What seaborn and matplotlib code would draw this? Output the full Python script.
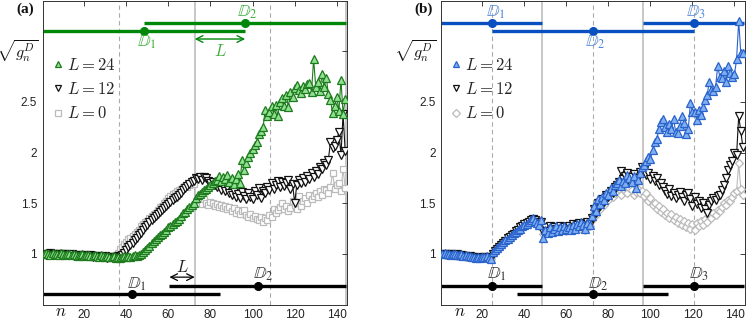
import numpy as np
import pandas as pd
import matplotlib
matplotlib.use("Agg")
import matplotlib.pyplot as plt
from matplotlib.lines import Line2D
import matplotlib.transforms as mtransforms
import seaborn as sns

# ---------------- data ----------------
n = list(range(1, 145))

a_L24 = [1.00,1.01,1.00,0.99,1.01,1.00,1.00,0.99,1.01,1.00,0.99,1.00,
         1.00,0.99,1.00,0.99,0.98,0.99,1.00,0.98,0.99,0.99,0.98,0.98,
         0.99,0.98,0.97,0.99,0.98,0.97,0.98,0.97,0.97,0.98,0.96,0.97,
         0.96,0.97,0.98,0.97,0.98,0.97,0.98,0.99,0.98,0.99,1.00,1.02,
         1.04,1.06,1.08,1.11,1.13,1.15,1.17,1.19,1.20,1.22,1.24,1.26,
         1.27,1.29,1.31,1.32,1.34,1.37,1.40,1.41,1.44,1.46,1.48,1.50,
         1.55,1.58,1.59,1.61,1.63,1.64,1.66,1.68,1.70,1.72,1.73,1.77,
         1.72,1.76,1.74,1.78,1.71,1.75,1.69,1.74,1.79,1.70,1.93,1.83,
         1.90,1.96,2.00,2.03,2.07,2.10,2.18,2.21,2.25,2.42,2.36,2.40,
         2.46,2.38,2.47,2.36,2.50,2.54,2.46,2.57,2.45,2.60,2.55,2.64,
         2.67,2.62,2.59,2.66,2.63,2.68,2.69,2.60,2.92,2.65,2.70,2.61,
         2.77,2.65,2.74,2.58,2.52,2.39,2.46,2.55,2.41,2.72,2.38,2.53]

a_L12 = [1.00,0.99,1.00,1.01,1.00,0.99,1.00,1.00,0.99,1.00,1.00,0.99,
         0.99,1.00,0.98,0.99,0.98,0.99,0.98,0.99,0.98,0.98,0.99,0.97,
         0.98,0.97,0.98,0.97,0.97,0.98,0.96,0.97,0.97,0.96,0.97,0.98,
         0.97,0.99,1.01,1.04,1.07,1.09,1.11,1.14,1.16,1.19,1.21,1.24,
         1.26,1.28,1.31,1.33,1.35,1.37,1.39,1.41,1.43,1.45,1.47,1.49,
         1.51,1.53,1.55,1.56,1.58,1.60,1.63,1.65,1.67,1.69,1.71,1.72,
         1.75,1.74,1.76,1.73,1.76,1.75,1.72,1.70,1.71,1.68,1.66,1.69,
         1.63,1.67,1.62,1.66,1.60,1.58,1.62,1.56,1.59,1.55,1.61,1.57,
         1.54,1.60,1.56,1.54,1.62,1.58,1.65,1.55,1.62,1.60,1.66,1.63,
         1.70,1.64,1.68,1.72,1.66,1.71,1.67,1.70,1.73,1.64,1.69,1.50,
         1.68,1.73,1.70,1.75,1.71,1.77,1.74,1.80,1.76,1.82,1.79,1.86,
         1.84,1.90,1.88,1.93,2.10,2.04,2.06,2.12,2.20,1.98,2.38,2.01]

a_L0 = [1.00,0.99,1.01,1.00,0.99,1.00,1.01,1.00,0.99,1.00,0.99,1.00,
        0.99,1.00,0.99,0.98,0.99,0.98,0.99,0.98,0.98,0.99,0.97,0.98,
        0.97,0.98,0.97,0.98,0.97,0.96,0.97,0.98,0.97,0.98,0.99,1.01,
        1.05,1.07,1.10,1.12,1.15,1.16,1.18,1.20,1.22,1.24,1.27,1.29,
        1.31,1.32,1.35,1.37,1.39,1.40,1.43,1.46,1.47,1.50,1.52,1.55,
        1.57,1.59,1.60,1.62,1.63,1.64,1.66,1.67,1.66,1.68,1.70,1.69,
        1.52,1.50,1.53,1.49,1.54,1.50,1.48,1.51,1.50,1.47,1.49,1.46,
        1.48,1.45,1.47,1.44,1.46,1.42,1.45,1.40,1.43,1.39,1.42,1.43,
        1.38,1.36,1.39,1.35,1.37,1.34,1.33,1.36,1.31,1.35,1.33,1.38,
        1.36,1.44,1.40,1.43,1.46,1.50,1.44,1.47,1.42,1.45,1.52,1.48,
        1.44,1.57,1.47,1.52,1.55,1.50,1.58,1.54,1.57,1.60,1.56,1.62,
        1.58,1.64,1.63,1.60,1.66,1.80,1.64,1.68,1.70,1.62,1.84,1.65]

b_L24 = [1.00,1.01,1.00,1.00,0.99,1.00,1.00,0.99,0.99,1.00,0.98,0.99,
         0.98,0.98,0.97,0.97,0.96,0.97,0.96,0.97,0.97,0.98,0.96,0.95,
         1.02,1.04,1.06,1.08,1.10,1.12,1.14,1.15,1.17,1.19,1.21,1.22,
         1.24,1.25,1.27,1.28,1.29,1.31,1.33,1.35,1.32,1.30,1.28,1.33,
         1.16,1.24,1.21,1.26,1.22,1.25,1.27,1.23,1.26,1.24,1.27,1.25,
         1.26,1.24,1.28,1.25,1.29,1.27,1.31,1.28,1.25,1.30,1.28,1.37,
         1.47,1.42,1.54,1.49,1.56,1.53,1.60,1.58,1.65,1.62,1.68,1.70,
         1.73,1.67,1.72,1.70,1.78,1.75,1.71,1.77,1.65,1.73,1.80,1.86,
         1.88,1.92,1.96,1.94,2.02,2.10,2.13,2.23,2.30,2.33,2.25,2.20,
         2.28,2.23,2.33,2.20,2.19,2.26,2.36,2.29,2.18,2.23,2.49,2.40,
         2.40,2.32,2.42,2.37,2.45,2.52,2.57,2.70,2.62,2.61,2.65,2.85,
         2.75,2.74,2.80,2.70,2.85,2.78,2.75,2.77,2.92,3.30,2.98,2.98]

b_L12 = [1.00,1.00,0.99,1.00,1.00,0.99,0.99,1.00,0.98,0.99,0.98,0.98,
         0.97,0.98,0.97,0.96,0.96,0.97,0.96,0.96,0.97,0.97,0.96,0.96,
         1.00,1.03,1.05,1.07,1.09,1.11,1.13,1.16,1.17,1.19,1.20,1.23,
         1.24,1.26,1.27,1.29,1.30,1.31,1.33,1.34,1.33,1.31,1.29,1.31,
         1.22,1.26,1.23,1.27,1.24,1.26,1.25,1.24,1.27,1.25,1.26,1.24,
         1.27,1.25,1.29,1.26,1.28,1.30,1.27,1.29,1.26,1.31,1.29,1.35,
         1.44,1.40,1.50,1.47,1.54,1.51,1.58,1.56,1.62,1.60,1.66,1.68,
         1.71,1.82,1.74,1.77,1.80,1.72,1.76,1.79,1.70,1.75,1.81,1.86,
         1.83,1.78,1.80,1.74,1.77,1.72,1.75,1.68,1.70,1.66,1.62,1.59,
         1.64,1.57,1.60,1.55,1.58,1.61,1.56,1.52,1.58,1.60,1.54,1.47,
         1.56,1.49,1.52,1.45,1.50,1.44,1.40,1.48,1.52,1.55,1.53,1.57,
         1.58,1.63,1.68,1.75,1.83,1.88,1.92,2.00,1.98,2.36,2.21,2.05]

b_L0 = [1.00,0.99,1.00,1.00,0.99,0.99,1.00,0.98,0.99,0.98,0.98,0.97,
        0.98,0.97,0.97,0.96,0.97,0.96,0.96,0.97,0.96,0.97,0.96,0.95,
        0.99,1.02,1.04,1.06,1.08,1.10,1.12,1.14,1.16,1.18,1.19,1.21,
        1.23,1.24,1.26,1.27,1.29,1.30,1.31,1.32,1.30,1.28,1.27,1.29,
        1.20,1.24,1.22,1.25,1.23,1.24,1.26,1.23,1.25,1.24,1.26,1.23,
        1.25,1.24,1.27,1.25,1.26,1.28,1.25,1.27,1.24,1.29,1.27,1.33,
        1.41,1.38,1.46,1.44,1.50,1.48,1.55,1.53,1.58,1.56,1.60,1.62,
        1.64,1.58,1.66,1.62,1.60,1.65,1.63,1.58,1.61,1.64,1.60,1.62,
        1.57,1.60,1.52,1.55,1.48,1.50,1.44,1.47,1.41,1.44,1.38,1.40,
        1.35,1.39,1.33,1.36,1.30,1.34,1.28,1.32,1.26,1.30,1.25,1.29,
        1.24,1.30,1.27,1.32,1.28,1.34,1.31,1.37,1.35,1.40,1.38,1.43,
        1.42,1.46,1.50,1.48,1.53,1.52,1.56,1.60,1.62,1.90,1.64,1.58]

# window annotations (centres, extents, heights)
a_top_centres = [48.5, 96.5]
a_top_spans = [(0.5, 96.5), (48.5, 144.5)]
a_top_levels = [3.20, 3.28]
a_bot_centres = [42.5, 102.5]
a_bot_spans = [(0.5, 84.5), (60.5, 144.5)]
a_bot_levels = [0.605, 0.685]
a_dashed = [36.5, 108.5]
a_solid = [72.5, 144.5]

b_top_centres = [24.5, 72.5, 120.5]
b_top_spans = [(0.5, 48.5), (24.5, 120.5), (96.5, 144.5)]
b_top_levels = [3.28, 3.20, 3.28]
b_bot_centres = [24.5, 72.5, 120.5]
b_bot_spans = [(0.5, 48.5), (36.5, 108.5), (96.5, 144.5)]
b_bot_levels = [0.685, 0.600, 0.685]
b_dashed = [24.5, 72.5, 120.5]
b_solid = [48.5, 96.5]

xticks = [20, 40, 60, 80, 100, 120, 140]
yticks = [1, 1.5, 2, 2.5, 3]
ytick_labels = ["1", "1.5", "2", "2.5", ""]
legend_labels = [r"$L=24$", r"$L=12$", r"$L=0$"]

# ---------------- style ----------------
sns.set_theme(style="white")
plt.rcParams["font.family"] = ["Liberation Sans", "DejaVu Sans"]
plt.rcParams["mathtext.fontset"] = "cm"

W, H = 748, 321
fig = plt.figure(figsize=(W / 100, H / 100), dpi=100)
ax_a = fig.add_axes([42.7 / W, 1 - 304.5 / H, 304.6 / W, 304.0 / H])
ax_b = fig.add_axes([441.0 / W, 1 - 304.5 / H, 304.0 / W, 304.0 / H])

green_bar = "#00870a"
green_txt = "#3fae3f"
green_face = "#8fe08f"
green_edge = "#1d7a1d"
blue_bar = "#0a4fbf"
blue_txt = "#4f86d8"
blue_face = "#80b0f2"
blue_edge = "#2a63cc"
gray_c = "#bbbbbb"


def draw_series(ax, y, marker, face, edge, line, ms, z):
    df = pd.DataFrame({"n": n, "v": y})
    sns.lineplot(data=df, x="n", y="v", ax=ax, color=line, linewidth=0.8,
                 marker=marker, markersize=ms, markerfacecolor=face,
                 markeredgecolor=edge, markeredgewidth=0.9, zorder=z,
                 legend=False)


def frame(ax, solid, dashed, letter):
    for xv in solid:
        ax.axvline(xv, color="#bdbdbd", lw=1.2, zorder=0.5)
    for xv in dashed:
        ax.axvline(xv, color="#aaaaaa", lw=0.8, ls=(0, (4, 3)), zorder=0.5)
    ax.set_xlim(0.3, 145)
    ax.set_ylim(0.5, 3.5)
    ax.set_xticks(xticks)
    ax.set_xticklabels([str(t) for t in xticks])
    ax.set_yticks(yticks)
    ax.set_yticklabels(ytick_labels)
    ax.tick_params(direction="in", top=True, right=True, length=3.5,
                   width=0.6, labelsize=8.5, colors="#222222")
    ax.tick_params(axis="x", pad=3.5)
    ax.tick_params(axis="y", pad=4)
    for s in ax.spines.values():
        s.set_linewidth(0.7)
        s.set_color("#333333")
    ax.set_xlabel("")
    ax.set_ylabel("")
    tr = mtransforms.blended_transform_factory(ax.transAxes, ax.transData)
    ax.text(-0.016, 3.0, r"$\sqrt{g_n^D}$", transform=tr, ha="right",
            va="center", fontsize=11.5, color="#111111")
    ax.text(9, 0.5, r"$n$", ha="center", va="top", fontsize=12,
            color="#111111", transform=ax.transData)
    ax.text(-0.028, 0.972, letter, transform=ax.transAxes, ha="right",
            va="center", fontsize=11, fontweight="bold",
            family="Liberation Serif", color="#111111")


def windows(ax, centres, spans, levels, color, lw, labels_pos, txtcolor):
    for (x0, x1), c, lv in zip(spans, centres, levels):
        ax.plot([x0, x1], [lv, lv], color=color, lw=lw, solid_capstyle="butt",
                zorder=2)
        ax.plot([c], [lv], "o", color=color, ms=5.5, zorder=2.1)
    for i, (c, lv, (ldx, ldy)) in enumerate(zip(centres, levels, labels_pos)):
        ax.text(c + ldx, lv + ldy, r"$\mathbb{D}_%d$" % (i + 1), ha="center",
                va="center", fontsize=12.5, color=txtcolor, zorder=2.2,
                math_fontfamily="stix")


def legend(ax, face, edge, gray_marker, gray_ms):
    handles = [
        Line2D([], [], ls="none", marker="^", ms=5, mfc=face, mec=edge, mew=0.9),
        Line2D([], [], ls="none", marker="v", ms=5, mfc="white", mec="#111111", mew=0.9),
        Line2D([], [], ls="none", marker=gray_marker, ms=gray_ms, mfc="white",
               mec=gray_c, mew=0.9),
    ]
    ax.legend(handles, legend_labels, loc="upper left",
              bbox_to_anchor=(0.0, 0.848), frameon=False, fontsize=12,
              handlelength=0.6, handletextpad=0.25, labelspacing=0.5,
              borderaxespad=0.2)


# ---------------- panel (a) ----------------
ax = ax_a
draw_series(ax, a_L0, "s", "white", gray_c, gray_c, 4.3, 3)
draw_series(ax, a_L12, "v", "white", "#111111", "#111111", 5.5, 4)
draw_series(ax, a_L24, "^", green_face, green_edge, green_edge, 5.5, 5)
frame(ax, a_solid, a_dashed, "(a)")
windows(ax, a_top_centres, a_top_spans, a_top_levels, green_bar, 2.4,
        [(1.3, -0.11), (1.0, 0.105)], green_txt)
windows(ax, a_bot_centres, a_bot_spans, a_bot_levels, "#000000", 2.4,
        [(2.5, 0.09), (2.5, 0.115)], "#333333")
ax.annotate("", xy=(72.5, 3.12), xytext=(96.5, 3.12),
            arrowprops=dict(arrowstyle="<->", color=green_bar, lw=1.0,
                            shrinkA=0, shrinkB=0))
ax.text(84.5, 3.0, r"$L$", ha="center", va="center", fontsize=12,
        color=green_txt)
ax.annotate("", xy=(60.5, 0.77), xytext=(72.5, 0.77),
            arrowprops=dict(arrowstyle="<->", color="#000000", lw=0.9,
                            shrinkA=0, shrinkB=0))
ax.text(66.5, 0.87, r"$L$", ha="center", va="center", fontsize=12,
        color="#222222")
legend(ax, green_face, green_edge, "s", 4)

# ---------------- panel (b) ----------------
ax = ax_b
draw_series(ax, b_L0, "D", "white", gray_c, gray_c, 4.2, 3)
draw_series(ax, b_L12, "v", "white", "#111111", "#111111", 5.5, 4)
draw_series(ax, b_L24, "^", blue_face, blue_edge, blue_edge, 5.5, 5)
frame(ax, b_solid, b_dashed, "(b)")
windows(ax, b_top_centres, b_top_spans, b_top_levels, blue_bar, 2.4,
        [(2.0, 0.105), (1.3, -0.11), (1.0, 0.105)], blue_txt)
windows(ax, b_bot_centres, b_bot_spans, b_bot_levels, "#000000", 2.4,
        [(2.5, 0.11), (2.5, 0.10), (2.5, 0.11)], "#333333")
legend(ax, blue_face, blue_edge, "D", 4)

fig.savefig("out.png", dpi=100)
